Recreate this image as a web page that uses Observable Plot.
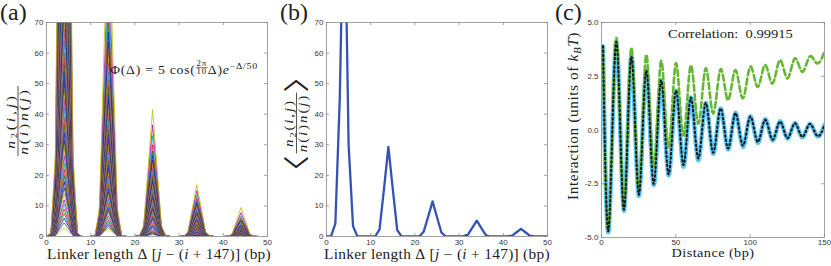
<!DOCTYPE html>
<html><head><meta charset="utf-8">
<script src="https://cdn.jsdelivr.net/npm/d3@7"></script>
<script src="https://cdn.jsdelivr.net/npm/@observablehq/plot@0.6"></script>
<style>
body{margin:0;background:#fff;}
#fig{position:relative;width:831px;height:266px;overflow:hidden;background:#fff;}
#fig > svg{position:absolute;top:0;}
</style></head><body><div id="fig"></div>
<script>
// ---------------- data ----------------
// panel (a): per-curve peak heights (50 curves) at the five nucleosome-spaced peaks
const linkerLengths = d3.range(0, 51);
const peakCenters = [4, 14, 24, 34, 44];
const peakProfile = [0.004, 0.09, 0.55, 1, 0.55, 0.09, 0.004]; // offsets -3..+3 bp
const peak1Levels = [2.8,4.5,6,7.5,9,10.5,12,14,16,18,20,22,24,26.5,29,31.5,34,36.5,39,42,45,48,51,54,57,60,64,68,72,76,80,85,90,95,100,106,112,118,125,132,140,150,160,172,185,200,220,240,265,300];
const peak2Levels = [2.5,3.2,3.9,4.6,5.3,6,6.8,7.6,8.4,9.2,10,10.9,11.8,12.7,13.6,14.6,15.6,16.6,17.7,18.8,19.9,21,22.2,23.4,24.7,26,27.4,28.8,30.3,31.8,33.4,35,36.7,38.5,40.4,42.4,44.5,46.7,49,51.5,54,57,60,63.5,67,71,76,82,92,110];
const peak3Levels = [0.6,0.9,1.2,1.5,1.8,2.1,2.4,2.7,3,3.3,3.6,4,4.4,4.8,5.2,5.6,6,6.4,6.8,7.2,7.7,8.2,8.7,9.2,9.7,10.2,10.8,11.4,12,12.6,13.3,14,14.7,15.4,16.2,17,17.8,18.7,19.6,20.6,21.6,22.7,23.8,25,26.5,28,30,33,36.5,41.5];
const peak4Levels = [0.3,0.4,0.5,0.6,0.75,0.9,1.0,1.15,1.3,1.4,1.55,1.7,1.85,2.0,2.2,2.35,2.5,2.7,2.85,3.0,3.2,3.4,3.6,3.8,4.0,4.25,4.5,4.75,5.0,5.25,5.5,5.8,6.1,6.4,6.7,7.0,7.4,7.8,8.2,8.6,9.0,9.5,10,10.5,11.1,11.8,12.6,13.6,15,17];
const peak5Levels = [0.2,0.25,0.3,0.35,0.4,0.45,0.5,0.55,0.6,0.68,0.75,0.82,0.9,0.98,1.06,1.14,1.22,1.3,1.38,1.46,1.55,1.64,1.73,1.82,1.92,2.02,2.12,2.23,2.34,2.45,2.57,2.7,2.83,2.97,3.11,3.26,3.42,3.6,3.8,4.0,4.2,4.45,4.7,5.0,5.3,5.7,6.2,6.8,7.8,9.5];
const colorOrder = ["#0000ff","#008000","#ff0000","#00bfbf","#bf00bf","#bfbf00","#404040"];

// panel (b): average normalised pair density
const meanDensity = [0,0,4.2,45,120,30,3.4,0,0,0, 0,0,2.3,15.5,29.3,15.5,2.1,0,0,0, 0,0,1.6,6.5,11.5,6.3,1.3,0,0,0, 0,0.1,0.6,2.9,5.2,2.8,0.5,0,0,0, 0,0.1,0.3,1.4,2.5,1.4,0.3,0,0,0, 0];

// panel (c): interaction vs distance
const distanceBp = [1,5,10,15,20,25,30,35,40,45,50,55,60,65,70,75,80,85,90,95,100,105,110,115,120,125,130,135,140,145,150];
const inputInteraction =  [3.9,-4.55,4.1,-3.75,3.4,-3.05,2.77,-2.55,2.3,-2.1,1.82,-1.7,1.5,-1.4,1.25,-1.1,1.0,-0.9,0.8,-0.78,0.63,-0.6,0.5,-0.48,0.4,-0.4,0.32,-0.34,0.28,-0.28,0.24];
const trueInteraction =   [3.9,-4.5,4.1,-3.7,3.4,-3.0,2.75,-2.5,2.3,-2.05,1.82,-1.62,1.5,-1.32,1.25,-1.05,1.0,-0.85,0.78,-0.72,0.62,-0.55,0.47,-0.45,0.39,-0.38,0.31,-0.32,0.28,-0.27,0.23];
const driftInteraction =  [3.9,-4.45,4.28,-3.6,3.82,-2.73,3.48,-1.72,3.2,-0.79,3.1,-0.25,3.0,0.3,2.86,0.77,2.82,1.39,2.79,1.47,2.94,2.0,3.02,2.16,3.25,2.4,3.33,2.7,3.41,3.1,3.64];

const xTicksAB = [0,10,20,30,40,50];
const yTicksAB = [0,10,20,30,40,50,60,70];
const xTicksC = [0,50,100,150];
const yTicksC = [-5,-2.5,0,2.5,5];

// ---------------- tables ----------------
const peakLevels = [peak1Levels, peak2Levels, peak3Levels, peak4Levels, peak5Levels];
const curvesA = [];
for (let k = 0; k < peak1Levels.length; k++) {
  const ys = linkerLengths.map(() => 0);
  peakCenters.forEach((c, p) => peakProfile.forEach((f, o) => { ys[c + o - 3] = peakLevels[p][k] * f; }));
  const color = colorOrder[(k + 5) % colorOrder.length];
  linkerLengths.forEach((d, i) => curvesA.push({id: k, x: d, y: ys[i], color}));
}
const tableB = linkerLengths.map((d, i) => ({x: d, y: meanDensity[i]}));
const tableC = (arr) => distanceBp.map((d, i) => ({x: d, y: arr[i]}));

const fig = document.getElementById("fig");
const frameColor = "#8a8a8a";
const baseStyle = {fontFamily: "'Liberation Sans', Arial, sans-serif", fontSize: "8px", color: "#333", background: "none", overflow: "visible"};

function innerTicks(xt, yt, iw, ih) {
  const o = {stroke: frameColor, strokeWidth: 0.8};
  return [
    Plot.tickX(xt, {x: d => d, insetTop: ih - 3, ...o}),
    Plot.tickX(xt, {x: d => d, insetBottom: ih - 3, ...o}),
    Plot.tickY(yt, {y: d => d, insetRight: iw - 3, ...o}),
    Plot.tickY(yt, {y: d => d, insetLeft: iw - 3, ...o})
  ];
}

// panel (a)
const A = {w: 280, h: 266, ml: 46, mr: 13, mt: 22, mb: 30};
const plotA = Plot.plot({
  width: A.w, height: A.h, marginLeft: A.ml, marginRight: A.mr, marginTop: A.mt, marginBottom: A.mb,
  x: {domain: [0, 50]}, y: {domain: [0, 70]}, color: {type: "identity"},
  style: baseStyle,
  marks: [
    Plot.line(curvesA, {x: "x", y: "y", z: "id", stroke: "color", strokeWidth: 0.8, clip: true}),
    Plot.frame({stroke: frameColor, strokeWidth: 0.8}),
    ...innerTicks(xTicksAB, yTicksAB, A.w - A.ml - A.mr, A.h - A.mt - A.mb),
    Plot.axisX({ticks: xTicksAB, tickSize: 0, tickPadding: 2.5, label: null}),
    Plot.axisY({ticks: yTicksAB, tickSize: 0, tickPadding: 3, label: null})
  ]
});
plotA.style.left = "0px";
fig.appendChild(plotA);

// panel (b)
const plotB = Plot.plot({
  width: A.w, height: A.h, marginLeft: A.ml, marginRight: A.mr, marginTop: A.mt, marginBottom: A.mb,
  x: {domain: [0, 50]}, y: {domain: [0, 70]},
  style: baseStyle,
  marks: [
    Plot.line(tableB, {x: "x", y: "y", stroke: "#3553b3", strokeWidth: 2.3, clip: true}),
    Plot.frame({stroke: frameColor, strokeWidth: 0.8}),
    ...innerTicks(xTicksAB, yTicksAB, A.w - A.ml - A.mr, A.h - A.mt - A.mb),
    Plot.axisX({ticks: xTicksAB, tickSize: 0, tickPadding: 2.5, label: null}),
    Plot.axisY({ticks: yTicksAB, tickSize: 0, tickPadding: 3, label: null})
  ]
});
plotB.style.left = "280px";
fig.appendChild(plotB);

// panel (c)
const C = {w: 276, h: 266, ml: 46, mr: 7, mt: 22, mb: 29};
const plotC = Plot.plot({
  width: C.w, height: C.h, marginLeft: C.ml, marginRight: C.mr, marginTop: C.mt, marginBottom: C.mb,
  x: {domain: [0, 150]}, y: {domain: [-5, 5]},
  style: baseStyle,
  marks: [
    Plot.line(tableC(inputInteraction), {x: "x", y: "y", stroke: "#5cc6f2", strokeWidth: 4.5, curve: "natural", clip: true}),
    Plot.line(tableC(driftInteraction), {x: "x", y: "y", stroke: "#66b834", strokeWidth: 2.6, strokeDasharray: "6 3.2", curve: "natural", clip: true}),
    Plot.line(tableC(trueInteraction), {x: "x", y: "y", stroke: "#151515", strokeWidth: 2, strokeDasharray: "1.5 2.8", curve: "natural", clip: true}),
    Plot.frame({stroke: frameColor, strokeWidth: 0.8}),
    ...innerTicks(xTicksC, yTicksC, C.w - C.ml - C.mr, C.h - C.mt - C.mb),
    Plot.axisX({ticks: xTicksC, tickSize: 0, tickPadding: 1.5, label: null}),
    Plot.axisY({ticks: yTicksC, tickSize: 0, tickPadding: 3, label: null, tickFormat: d => d.toFixed(1)})
  ]
});
plotC.style.left = "555px";
fig.appendChild(plotC);

// ---------------- text overlay ----------------
const overlay = d3.create("svg").attr("width", 831).attr("height", 266)
  .style("left", "0px").style("pointer-events", "none")
  .attr("font-family", "'Liberation Serif', 'Times New Roman', serif").attr("fill", "#222");
fig.appendChild(overlay.node());

function layoutPieces(g, pieces, base, ls) {
  let x = 0;
  for (const p of pieces) {
    if (p.frac) {
      const gn = g.append("g"), gd = g.append("g");
      const wn = layoutPieces(gn, p.frac[0], p.size, ls), wd = layoutPieces(gd, p.frac[1], p.size, ls);
      const pad = p.pad ?? 1;
      const w = Math.max(wn, wd) + 2 * pad;
      gn.attr("transform", `translate(${x + (w - wn) / 2},${p.numY})`);
      gd.attr("transform", `translate(${x + (w - wd) / 2},${p.denY})`);
      g.append("line").attr("x1", x).attr("x2", x + w).attr("y1", p.barY).attr("y2", p.barY)
        .attr("stroke", "#222").attr("stroke-width", p.barW ?? 0.8);
      x += w + (p.gap ?? 0);
    } else {
      const t = g.append("text").attr("x", x).attr("y", p.dy ?? 0)
        .attr("font-size", p.size ?? base).attr("font-style", p.it ? "italic" : "normal")
        .attr("letter-spacing", ls).text(p.t.replace(/ /g, "\u00a0"));
      if (p.family) t.attr("font-family", p.family);
      x += t.node().getComputedTextLength() + (p.gap ?? 0);
    }
  }
  return x;
}
function drawLabel(pieces, {x, y, rotate = 0, width = null, size = 14, anchor = "middle", maxStretch = 1.1}) {
  const outer = overlay.append("g").attr("transform", `translate(${x},${y}) rotate(${rotate})`);
  const inner = outer.append("g");
  let w = layoutPieces(inner, pieces, size, 0);
  if (width && width / w > maxStretch) {
    const sg = maxStretch;
    inner.selectAll("*").remove();
    const w1 = layoutPieces(inner, pieces, size, 1);
    const per = w1 - w;
    const ls = per > 0 ? (width / sg - w) / per : 0;
    inner.selectAll("*").remove();
    w = layoutPieces(inner, pieces, size, ls);
  }
  const s = width ? width / w : 1;
  const shift = anchor === "middle" ? -w / 2 : 0;
  inner.attr("transform", `scale(${s},1) translate(${shift},0)`);
}

const linkerLabel = [{t: "Linker length Δ ["}, {t: "j", it: 1}, {t: " − ("}, {t: "i", it: 1}, {t: " + 147)] (bp)"}];
const numPieces = [{t: "n", it: 1}, {t: "2", size: 8.5, dy: 2.5}, {t: "("}, {t: "i", it: 1}, {t: ","}, {t: "j", it: 1}, {t: ")"}];
const denPieces = [{t: "n", it: 1}, {t: "("}, {t: "i", it: 1}, {t: ")"}, {t: "n", it: 1}, {t: "("}, {t: "j", it: 1}, {t: ")"}];
const densityFrac = {frac: [numPieces, denPieces], size: 12.5, numY: -3.2, denY: 10, barY: 0, pad: 1, barW: 0.7};

drawLabel([{t: "(a)"}], {x: 0, y: 20, size: 24, anchor: "start"});
drawLabel([{t: "(b)"}], {x: 280, y: 20, size: 24, anchor: "start"});
drawLabel([{t: "(c)"}], {x: 555, y: 20, size: 24, anchor: "start"});

drawLabel(linkerLabel, {x: 159, y: 259, size: 14, width: 224});
drawLabel(linkerLabel, {x: 437, y: 259, size: 14, width: 226});
drawLabel([{t: "Distance (bp)"}], {x: 713, y: 257, size: 13, width: 83});

drawLabel([densityFrac], {x: 18, y: 121, rotate: -90, width: 70, maxStretch: 1.25});
drawLabel([{t: "〈", size: 26, dy: 9, family: "'Noto Sans CJK JP'"}, densityFrac, {t: "〉", size: 26, dy: 9, family: "'Noto Sans CJK JP'"}],
  {x: 296.5, y: 123, rotate: -90, width: 127, maxStretch: 1.2});
drawLabel([{t: "Interaction (units of "}, {t: "k", it: 1}, {t: "B", it: 1, size: 10, dy: 3}, {t: "T", it: 1}, {t: ")"}],
  {x: 578, y: 116, rotate: -90, size: 14, width: 168});

drawLabel([{t: "Φ(Δ) = 5 cos("}, {frac: [[{t: "2π"}], [{t: "10"}]], size: 8, numY: -7.3, denY: 0.8, barY: -5.8, pad: 0.8, barW: 0.6},
  {t: "Δ)"}, {t: "e", it: 1}, {t: "−Δ/50", size: 9, dy: -4.5}],
  {x: 184, y: 73.5, size: 12.5, width: 148});
drawLabel([{t: "Correlation:  0.99915"}], {x: 730.5, y: 37.5, size: 13.5, width: 125});
</script></body></html>
